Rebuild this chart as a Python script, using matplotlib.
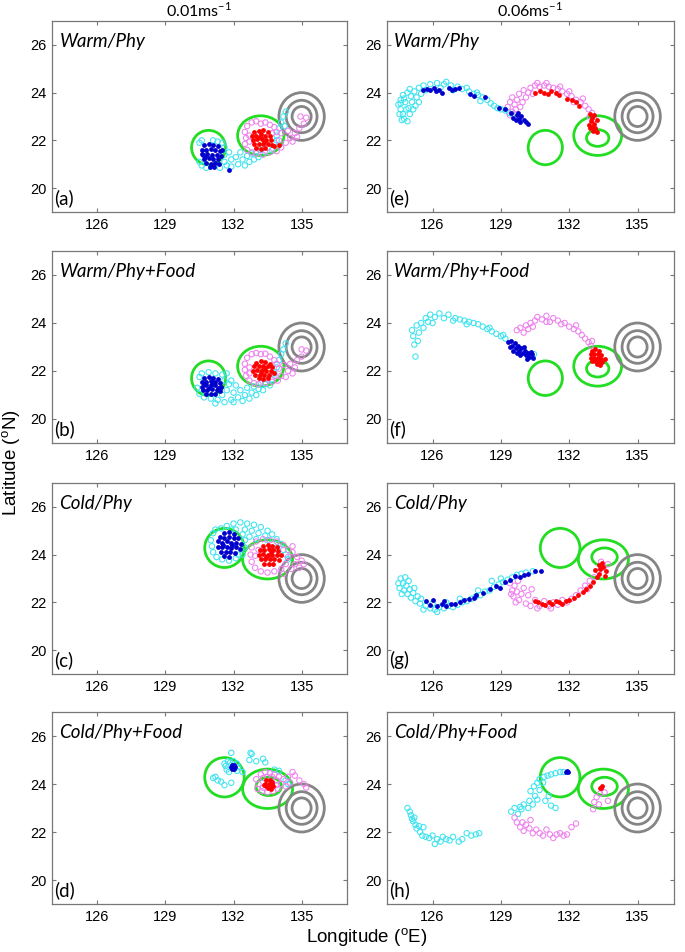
import matplotlib.pyplot as plt
from matplotlib.patches import Ellipse

plt.rcParams["font.family"] = ["Liberation Sans", "DejaVu Sans"]

# eddy contours: (lon, lat, width, height) in degrees
warm_eddies = [(130.9, 21.7, 1.5, 1.44), (133.2, 22.2, 2.04, 1.66)]
warm_eddies_fast = [(130.95, 21.7, 1.5, 1.44), (133.25, 22.2, 2.1, 1.66), (133.25, 22.1, 0.98, 0.7)]
cold_eddies = [(131.6, 24.28, 1.74, 1.64), (133.5, 23.8, 2.2, 1.64)]
cold_eddies_food = [(131.6, 24.28, 1.74, 1.64), (133.5, 23.8, 2.2, 1.64), (133.55, 23.9, 1.12, 0.76)]
ring_center = (135.0, 23.0)
ring_diams = [2.0, 1.36, 0.84]

# (a) Warm/Phy 0.01
a_cyan = [(130.5,21.9),(130.6,22.0),(131.5,21.9),(131.6,21.7),(131.6,21.4),(130.5,21.1),(130.6,20.95),(130.8,20.85),
          (131.4,20.85),(131.6,21.1),(131.8,21.5),(131.9,21.2),(131.9,20.9),(132.1,21.3),(132.2,21.0),(132.3,21.5),
          (132.4,21.2),(132.5,20.95),(132.6,21.35),(132.7,21.1),(132.8,21.45),(132.9,21.2),(133.0,21.55),(133.1,21.3),
          (133.2,21.6),(133.4,21.5),(133.5,21.7),(133.7,21.6),(133.8,21.9),(133.9,22.2),(134.0,22.5),(134.1,22.75),
          (134.2,23.0),(134.3,23.2),(134.25,22.6),(133.9,22.0),(131.3,21.95),(131.1,22.0),(131.7,20.95)]
a_pink = [(132.6,22.6),(132.8,22.75),(133.0,22.8),(133.2,22.7),(133.4,22.75),(133.6,22.65),(133.8,22.55),(132.5,22.35),
          (132.55,22.1),(132.5,21.85),(132.6,21.6),(132.8,21.5),(133.0,21.45),(133.3,21.4),(133.6,21.5),(133.9,21.55),
          (134.1,21.7),(134.0,22.0),(134.1,22.3),(133.9,22.35),(134.3,21.9),(134.5,22.1),(134.4,22.4),(134.7,22.3),
          (134.9,22.5),(135.1,22.7),(134.6,21.95),(134.8,22.15),(135.2,22.95),(134.95,23.0),(133.7,22.3),(132.7,22.2),
          (132.7,21.95)]
a_blue = [(130.7,21.8),(130.9,21.85),(131.1,21.8),(131.3,21.75),(130.6,21.6),(130.8,21.6),(131.0,21.65),(131.2,21.6),
          (131.4,21.55),(130.65,21.4),(130.85,21.45),(131.05,21.4),(131.25,21.4),(131.45,21.35),(130.7,21.2),(130.9,21.25),
          (131.1,21.2),(131.3,21.2),(130.8,21.05),(131.0,21.0),(131.2,21.05),(130.95,20.9),(131.15,20.9),(131.8,20.75),
          (130.75,21.3),(131.35,21.0),(130.6,21.45),(131.5,21.6)]
a_red = [(132.9,22.35),(133.1,22.4),(133.3,22.45),(133.5,22.35),(132.8,22.2),(133.0,22.2),(133.2,22.25),(133.4,22.2),
         (133.6,22.2),(132.85,22.0),(133.05,22.05),(133.25,22.05),(133.45,22.0),(133.65,22.0),(132.9,21.85),(133.1,21.85),
         (133.3,21.85),(133.5,21.85),(133.7,21.8),(133.0,21.7),(133.2,21.65),(133.4,21.7),(133.8,21.75),(134.0,21.8),
         (133.35,21.95),(133.15,22.15)]

# (b) Warm/Phy+Food 0.01
b_cyan = [(130.5,21.75),(130.6,21.9),(130.9,21.95),(131.2,21.9),(131.5,21.85),(131.7,21.9),(131.6,21.6),(130.4,21.3),
          (130.5,21.05),(130.7,20.9),(131.0,20.85),(131.3,20.8),(131.5,21.0),(131.7,21.2),(131.8,21.45),(131.2,20.65),
          (131.6,20.7),(131.9,20.8),(132.0,21.1),(132.1,21.4),(132.2,20.9),(132.3,21.2),(132.4,20.75),(132.5,21.0),
          (132.6,21.3),(132.7,20.85),(132.8,21.1),(132.9,21.35),(133.0,21.0),(133.1,21.25),(133.2,21.5),(133.3,21.2),
          (133.4,21.45),(133.6,21.4),(133.7,21.65),(133.8,21.9),(133.9,22.15),(134.0,22.45),(134.1,22.7),(134.2,22.9),
          (134.3,23.15),(133.5,21.65),(131.9,21.6),(132.0,20.7)]
b_pink = [(132.6,22.55),(132.8,22.7),(133.0,22.75),(133.2,22.7),(133.4,22.72),(133.6,22.6),(133.8,22.45),(132.5,22.3),
          (132.5,22.05),(132.55,21.8),(132.7,21.6),(132.9,21.5),(133.1,21.45),(133.4,21.5),(133.7,21.55),(133.95,21.6),
          (134.1,21.8),(134.0,22.1),(134.2,22.25),(134.4,22.0),(134.5,22.3),(134.7,22.15),(134.8,22.45),(135.0,22.6),
          (135.2,22.85),(134.3,21.75),(134.6,21.9),(133.9,22.3),(132.7,22.15),(132.7,21.9),(135.0,22.9),(133.8,21.8)]
b_blue = [(130.7,21.7),(130.9,21.75),(131.1,21.72),(131.3,21.65),(130.6,21.55),(130.8,21.55),(131.0,21.58),(131.2,21.55),
          (131.4,21.5),(130.6,21.35),(130.8,21.4),(131.0,21.4),(131.2,21.4),(131.45,21.35),(130.65,21.2),(130.85,21.22),
          (131.05,21.25),(131.25,21.2),(131.4,21.18),(130.8,21.05),(131.0,21.05),(131.2,21.05),(130.9,21.3),(131.1,21.5),
          (130.7,21.45),(131.3,21.3)]
b_red = [(133.0,22.35),(133.2,22.4),(133.4,22.38),(133.6,22.3),(132.9,22.2),(133.1,22.22),(133.3,22.22),(133.5,22.2),
         (133.7,22.15),(132.85,22.0),(133.05,22.05),(133.25,22.05),(133.45,22.02),(133.65,22.0),(133.8,21.9),(132.95,21.85),
         (133.15,21.85),(133.35,21.85),(133.55,21.85),(133.1,21.7),(133.3,21.68),(133.5,21.7),(133.2,21.95),(133.4,22.12)]

# (c) Cold/Phy 0.01
c_cyan = [(131.1,24.9),(131.2,25.05),(131.45,25.1),(131.7,25.2),(132.0,25.3),(132.3,25.35),(132.6,25.3),(132.9,25.25),
          (133.2,25.15),(133.5,25.0),(133.7,24.85),(131.0,24.6),(131.05,24.35),(131.1,24.1),(131.25,23.9),(131.5,23.8),
          (131.8,23.75),(132.1,23.85),(132.4,24.0),(132.5,24.3),(132.5,24.6),(132.4,24.85),(132.1,25.05),(132.5,25.05),
          (132.8,25.0),(133.1,24.9),(133.4,24.8),(133.0,24.65),(132.7,24.75),(133.9,24.65),(134.1,24.45),(134.2,24.2),
          (134.3,24.0),(134.4,23.8),(133.9,24.3),(133.5,24.6),(131.9,25.05),(132.2,24.0)]
c_pink = [(133.0,24.55),(133.3,24.65),(133.6,24.6),(133.9,24.55),(134.2,24.4),(132.8,24.3),(132.75,24.0),(132.8,23.7),
          (132.95,23.45),(133.2,23.3),(133.5,23.25),(133.8,23.3),(134.1,23.4),(134.3,23.6),(134.4,23.9),(134.4,24.2),
          (134.6,24.1),(134.8,23.9),(134.7,23.6),(135.0,23.75),(134.55,23.4),(134.9,23.45),(133.95,24.2),(132.95,23.95),
          (134.6,24.35),(135.1,23.6),(134.2,23.2),(133.1,24.2)]
c_blue = [(131.6,24.9),(131.8,24.95),(132.0,24.85),(131.4,24.75),(131.6,24.7),(131.8,24.75),(132.0,24.68),(132.2,24.7),
          (131.3,24.55),(131.5,24.5),(131.7,24.55),(131.9,24.5),(132.1,24.5),(132.35,24.45),(131.3,24.3),(131.5,24.3),
          (131.7,24.32),(131.9,24.28),(132.1,24.3),(132.3,24.25),(131.45,24.1),(131.65,24.1),(131.85,24.1),(132.05,24.08),
          (131.6,23.95),(131.8,23.92),(131.95,24.4),(131.55,24.4)]
c_red = [(133.3,24.35),(133.5,24.4),(133.7,24.35),(133.9,24.3),(133.15,24.2),(133.35,24.2),(133.55,24.22),(133.75,24.18),
         (133.95,24.15),(133.1,24.0),(133.3,24.02),(133.5,24.0),(133.7,24.0),(133.9,23.98),(134.1,24.0),(133.2,23.8),
         (133.4,23.8),(133.6,23.82),(133.8,23.8),(134.0,23.78),(133.35,23.6),(133.55,23.6),(133.75,23.62),(133.45,23.9),
         (133.65,24.1)]

# (d) Cold/Phy+Food 0.01
d_cyan = [(131.6,24.85),(131.75,24.95),(131.85,24.9),(132.15,24.85),(132.2,24.7),(132.15,24.55),(131.7,24.6),(131.8,24.5),
          (131.65,24.75),(132.0,24.95),(131.9,25.3),(132.75,25.3),(132.8,25.25),(132.7,25.0),(133.0,24.95),(133.3,25.05),
          (133.4,24.9),(131.1,24.25),(131.3,24.15),(131.45,24.1),(131.6,23.95),(131.9,24.05),(132.4,24.5),(133.8,24.6),
          (134.0,24.55),(134.3,24.15),(134.4,24.0),(131.2,24.3)]
d_pink = [(133.2,24.4),(133.4,24.5),(133.6,24.45),(133.8,24.4),(134.0,24.3),(133.0,24.2),(133.1,24.0),(133.05,23.8),
          (133.25,23.7),(133.5,23.65),(133.75,23.7),(133.95,23.8),(134.1,24.0),(134.2,24.2),(134.4,24.3),(134.6,24.5),
          (134.7,24.35),(134.9,24.15),(135.1,24.0),(135.2,23.85),(134.3,23.9),(133.3,24.25),(133.9,24.15),(133.3,23.85),
          (134.5,24.05),(133.7,24.3),(133.5,24.3),(133.9,23.95)]
d_blue = [(131.92,24.78),(132.02,24.8),(131.88,24.7),(131.98,24.71),(132.08,24.7),(131.93,24.62),(132.03,24.62)]
d_red = [(133.45,24.15),(133.6,24.17),(133.7,24.1),(133.4,24.02),(133.55,24.02),(133.7,24.0),(133.45,23.9),(133.6,23.88),
         (133.75,23.92),(133.52,23.82),(133.65,23.8),(133.35,23.95)]

# (e) Warm/Phy 0.06
e_cyan = [(124.5,23.5),(124.6,23.3),(124.7,23.1),(124.75,22.9),(124.9,22.8),(124.6,23.7),(124.7,23.9),(124.9,24.0),
          (124.8,23.6),(124.95,23.35),(125.0,23.1),(125.1,23.6),(125.05,23.85),(125.2,24.05),(125.3,23.8),(125.25,23.45),
          (125.4,24.2),(125.5,23.95),(125.6,24.3),(125.7,24.1),(124.6,23.55),(124.85,23.3),(125.9,24.35),(126.2,24.4),
          (126.5,24.35),(126.8,24.3),(127.1,24.25),(127.3,24.15),(126.35,24.2),(126.9,24.1),(127.6,24.05),(127.8,23.95),
          (128.0,23.9),(128.2,23.8),(128.4,23.7),(128.55,23.55),(128.7,23.45),(128.85,23.35),(129.0,23.3),(129.2,23.25),
          (129.35,23.15),(129.5,23.1),(127.5,24.2),(128.1,23.65),(124.55,23.1),(124.75,23.75),(125.15,23.3),(125.4,23.6),
          (124.65,22.85),(125.0,24.15),(126.6,24.45),(127.95,24.0)]
e_pink = [(129.3,23.4),(129.4,23.6),(129.5,23.8),(129.6,23.5),(129.5,23.2),(129.7,23.7),(129.8,23.95),(129.85,23.4),
          (129.4,23.05),(130.0,24.1),(130.1,23.8),(130.3,24.2),(130.5,24.3),(130.4,23.95),(130.7,24.25),(130.9,24.3),
          (131.1,24.25),(131.3,24.2),(131.5,24.15),(131.7,24.05),(131.9,23.95),(132.1,23.85),(132.3,23.7),(132.5,23.6),
          (132.7,23.45),(132.85,23.3),(133.0,23.15),(132.9,23.0),(133.1,22.9),(129.65,23.3),(130.2,24.0),(132.2,23.6),
          (129.95,23.6),(130.6,24.4),(131.0,24.4),(131.6,24.25),(132.0,24.05),(132.6,23.75)]
e_blue = [(125.6,24.1),(125.75,24.15),(125.9,24.1),(126.05,24.2),(126.15,24.05),(126.3,24.1),(126.4,24.0),(126.7,24.2),
          (126.85,24.1),(127.0,24.15),(127.15,24.2),(127.65,23.95),(127.8,23.85),(128.3,23.8),(128.9,23.35),(129.2,23.3),
          (129.45,23.15),(129.55,22.95),(129.7,23.05),(129.8,22.9),(129.9,23.0),(129.65,22.85),(130.0,22.85),(130.1,22.75),
          (129.85,22.78),(130.2,22.7),(129.75,23.15)]
e_red = [(130.5,24.0),(130.7,24.05),(130.9,24.0),(131.05,23.95),(131.2,24.05),(131.4,24.0),(131.55,23.9),(131.9,23.75),
         (132.1,23.7),(132.3,23.6),(132.45,23.45),(132.9,23.1),(133.0,22.95),(133.1,23.05),(132.95,22.8),(133.1,22.7),
         (133.2,22.85),(132.85,22.65),(133.0,22.55),(133.15,22.5),(133.05,22.4),(133.2,22.35),(132.9,22.5)]

# (f) Warm/Phy+Food 0.06
f_cyan = [(125.1,23.7),(125.15,23.45),(125.2,23.1),(125.25,22.6),(125.3,23.9),(125.4,23.6),(125.5,24.0),(125.6,23.8),
          (125.7,24.2),(125.8,24.05),(125.9,24.35),(126.1,24.25),(126.3,24.4),(126.5,24.2),(126.7,24.35),(126.9,24.1),
          (127.2,24.15),(127.4,24.1),(127.6,24.05),(127.8,24.0),(128.0,23.95),(128.2,23.85),(128.4,23.75),(128.6,23.65),
          (128.8,23.55),(129.0,23.45),(129.2,23.35),(127.0,24.2),(126.0,24.0),(125.35,23.25),(127.5,23.95),(128.5,23.8),
          (129.1,23.5),(130.3,22.6),(130.45,22.7)]
f_pink = [(129.7,23.7),(129.85,23.8),(130.0,23.6),(130.1,23.9),(130.3,24.0),(130.2,23.75),(130.5,24.1),(130.6,24.25),
          (130.8,24.15),(131.0,24.3),(131.15,24.05),(131.3,24.2),(131.5,24.1),(131.65,23.95),(131.8,24.0),(132.0,23.85),
          (132.2,23.75),(132.4,23.65),(132.55,23.5),(132.7,23.35),(132.85,23.2),(132.95,23.05),(133.0,23.25),(130.4,23.85),
          (131.0,24.05),(132.3,23.9)]
f_blue = [(129.3,23.2),(129.45,23.25),(129.5,23.05),(129.6,23.15),(129.65,22.95),(129.75,23.05),(129.8,22.85),(129.9,22.95),
          (129.95,22.75),(130.05,22.85),(130.1,22.65),(130.2,22.75),(130.25,22.6),(130.35,22.7),(130.4,22.55),(129.55,22.85),
          (129.85,22.65),(130.0,23.0),(129.7,22.75),(130.15,22.5),(129.4,23.0),(130.3,22.8)]
f_red = [(133.0,22.85),(133.15,22.9),(133.3,22.85),(132.95,22.7),(133.1,22.72),(133.25,22.7),(133.4,22.68),(132.95,22.55),
         (133.1,22.55),(133.25,22.55),(133.4,22.52),(133.55,22.5),(133.0,22.4),(133.15,22.4),(133.3,22.38),(133.45,22.38),
         (133.2,22.28),(133.35,22.25)]

# (g) Cold/Phy 0.06
g_cyan = [(124.6,23.0),(124.7,22.8),(124.55,22.6),(124.75,22.5),(124.85,22.7),(124.9,22.35),(125.0,22.55),(125.05,22.2),
          (125.15,22.4),(125.25,22.05),(125.35,22.25),(125.45,21.95),(124.65,22.35),(124.95,22.9),(125.5,22.15),(125.7,21.85),
          (125.9,21.75),(126.1,21.7),(126.3,21.8),(126.5,21.75),(126.7,21.85),(126.9,21.8),(127.1,21.9),(127.3,22.0),
          (127.5,22.05),(127.7,22.15),(127.9,22.25),(128.1,22.3),(128.3,22.45),(128.5,22.5),(128.7,22.65),(128.9,22.75),
          (129.1,22.85),(129.3,22.95),(129.5,23.05),(129.7,23.15),(129.9,23.2),(130.1,23.25),(130.4,23.3),(126.0,21.95),
          (126.6,22.0),(127.2,22.15),(128.0,22.5),(129.0,23.0),(124.5,22.8),(124.8,23.05),(125.2,22.6),(125.6,21.7),
          (126.2,21.6),(128.6,22.9)]
g_pink = [(129.4,22.8),(129.5,22.5),(129.6,22.7),(129.55,22.25),(129.7,22.45),(129.8,22.1),(129.9,22.35),(129.75,22.9),
          (130.0,22.6),(130.1,21.95),(130.2,22.3),(130.3,21.85),(129.65,22.0),(130.5,22.1),(130.7,21.85),(130.9,22.05),
          (131.1,21.85),(131.3,22.0),(131.5,21.9),(131.7,22.1),(131.9,22.0),(132.1,22.15),(132.3,22.3),(132.5,22.5),
          (132.7,22.7),(132.9,22.9),(133.1,23.05),(133.3,23.3),(133.5,23.45),(133.7,23.6),(133.4,23.7),(132.8,22.55),
          (129.45,22.35),(130.35,22.55),(130.6,21.75),(131.2,21.75)]
g_blue = [(125.7,22.05),(125.9,21.9),(126.0,22.1),(126.2,21.85),(126.4,21.95),(126.6,21.85),(126.8,21.95),(127.0,21.95),
          (127.2,22.0),(127.4,22.1),(127.6,22.15),(127.9,22.3),(128.2,22.4),(128.5,22.55),(128.8,22.7),(128.95,22.6),
          (129.2,22.85),(129.4,22.95),(129.6,23.1),(129.85,23.05),(130.0,23.15),(130.2,23.2),(130.5,23.3),(130.75,23.3),
          (126.5,22.05),(127.8,22.2)]
g_red = [(130.5,22.05),(130.65,22.0),(130.8,21.95),(130.95,21.9),(131.1,22.0),(131.25,21.95),(131.4,22.05),(131.55,22.0),
         (131.7,21.95),(131.85,22.05),(132.0,22.1),(132.2,22.2),(132.4,22.3),(132.6,22.45),(132.75,22.55),(132.9,22.7),
         (133.05,22.85),(133.2,23.05),(133.3,23.2),(133.15,23.35),(133.35,23.4),(133.5,23.5),(133.3,23.55),(133.45,23.65),
         (133.6,23.3),(133.55,23.1)]

# (h) Cold/Phy+Food 0.06
h_cyan = [(124.9,23.0),(125.0,22.85),(125.05,22.7),(125.1,22.55),(125.15,22.45),(125.25,22.3),(125.3,22.15),(125.4,22.25),
          (125.45,22.0),(125.55,21.85),(125.7,21.8),(125.85,21.75),(126.0,21.85),(126.2,21.7),(126.35,21.6),(126.45,21.8),
          (126.6,21.7),(126.75,21.65),(126.9,21.8),(127.15,21.6),(127.3,21.7),(127.5,21.95),(127.7,21.85),(127.9,21.9),
          (128.05,21.95),(126.1,21.5),(125.2,22.6),(125.6,22.2),(129.45,22.85),(129.6,23.0),(129.75,22.75),(129.9,22.95),
          (130.0,23.15),(130.2,23.0),(130.25,23.3),(130.4,23.15),(130.5,23.5),(130.6,23.35),(130.3,23.7),(130.45,23.9),
          (130.7,23.75),(130.85,24.05),(130.95,23.3),(131.1,23.5),(131.2,23.1),(131.4,23.0),(130.7,24.2),(130.9,24.3),
          (131.05,24.35),(131.2,24.4),(131.4,24.45),(131.6,24.5),(131.75,24.5),(130.6,24.05),(129.85,23.05)]
h_pink = [(129.6,22.6),(129.7,22.4),(129.85,22.2),(130.0,22.05),(130.1,22.3),(130.25,22.15),(130.4,21.95),(130.55,22.1),
          (130.7,21.95),(130.85,21.85),(131.0,22.1),(131.15,21.9),(131.3,21.75),(131.45,21.9),(131.6,21.95),(131.75,21.85),
          (131.9,21.9),(132.1,22.2),(132.3,22.35),(133.05,22.95),(133.1,23.25),(133.2,23.45),(133.3,23.15),(133.35,23.6),
          (133.55,23.65),(133.7,23.3),(130.3,22.5),(129.95,22.4)]
h_blue = [(131.92,24.54),(131.88,24.5),(131.96,24.5)]
h_red = [(133.37,23.85),(133.43,23.9),(133.4,23.82)]

panel_letters = ["(a)", "(b)", "(c)", "(d)", "(e)", "(f)", "(g)", "(h)"]
panel_names = ["Warm/Phy", "Warm/Phy+Food", "Cold/Phy", "Cold/Phy+Food"] * 2
panel_eddies = [warm_eddies, warm_eddies, cold_eddies, cold_eddies_food,
                warm_eddies_fast, warm_eddies_fast, cold_eddies_food, cold_eddies_food]
panel_points = [
    (a_cyan, a_pink, a_blue, a_red), (b_cyan, b_pink, b_blue, b_red),
    (c_cyan, c_pink, c_blue, c_red), (d_cyan, d_pink, d_blue, d_red),
    (e_cyan, e_pink, e_blue, e_red), (f_cyan, f_pink, f_blue, f_red),
    (g_cyan, g_pink, g_blue, g_red), (h_cyan, h_pink, h_blue, h_red),
]
column_titles = ["0.01ms$^{\\mathregular{-1}}$", "0.06ms$^{\\mathregular{-1}}$"]

W, H = 685, 952
col_px = [(52, 347), (387, 674)]
row_px = [(21, 212), (251, 443), (483, 674), (712, 904)]
col_xlim = [(124, 137), (124, 136.6)]

fig = plt.figure(figsize=(W / 100, H / 100), dpi=100)
label_font = ["Lato", "DejaVu Sans"]

for i in range(8):
    col, row = i // 4, i % 4
    x0, x1 = col_px[col]
    y0, y1 = row_px[row]
    ax = fig.add_axes([x0 / W, 1 - y1 / H, (x1 - x0) / W, (y1 - y0) / H])

    for (cx, cy, w, h) in panel_eddies[i]:
        ax.add_patch(Ellipse((cx, cy), w, h, fill=False, ec="#22dd22", lw=2.0, zorder=1))
    for d in ring_diams:
        ax.add_patch(Ellipse(ring_center, d, d, fill=False, ec="#858585", lw=2.0, zorder=1))

    cyan, pink, blue, red = panel_points[i]
    ax.scatter([p[0] for p in cyan], [p[1] for p in cyan], s=15, facecolors="none",
               edgecolors="#3de3f0", linewidths=0.75, zorder=2)
    ax.scatter([p[0] for p in pink], [p[1] for p in pink], s=15, facecolors="none",
               edgecolors="#ee82ee", linewidths=0.75, zorder=2)
    ax.scatter([p[0] for p in blue], [p[1] for p in blue], s=12, c="#0000cc", linewidths=0, zorder=3)
    ax.scatter([p[0] for p in red], [p[1] for p in red], s=12, c="#ff0000", linewidths=0, zorder=3)

    ax.set_xlim(*col_xlim[col])
    ax.set_ylim(19, 27)
    ax.set_xticks([126, 129, 132, 135])
    ax.set_yticks([20, 22, 24, 26])
    ax.tick_params(direction="in", length=3, top=True, right=True, color="#777777",
                   labelsize=10.5, pad=4)
    for sp in ax.spines.values():
        sp.set_color("#777777")
        sp.set_linewidth(0.9)

    ax.text(0.025, 0.935, panel_names[i], transform=ax.transAxes, fontsize=13.5,
            style="italic", family=label_font, va="top", ha="left")
    ax.text(0.008, 0.025, panel_letters[i], transform=ax.transAxes, fontsize=13.5,
            family=label_font, va="bottom", ha="left")

for col in range(2):
    x0, x1 = col_px[col]
    fig.text((x0 + x1) / 2 / W, 1 - 10 / H, column_titles[col], ha="center", va="center",
             fontsize=11.5, family=label_font)

fig.text(367 / W, 1 - 938 / H, "Longitude ($^{\\mathregular{o}}$E)", ha="center", va="center",
         fontsize=13.5)
fig.text(12 / W, 1 - 463 / H, "Latitude ($^{\\mathregular{o}}$N)", ha="center", va="center",
         rotation=90, fontsize=13.5)

fig.savefig("out.png", dpi=100)
